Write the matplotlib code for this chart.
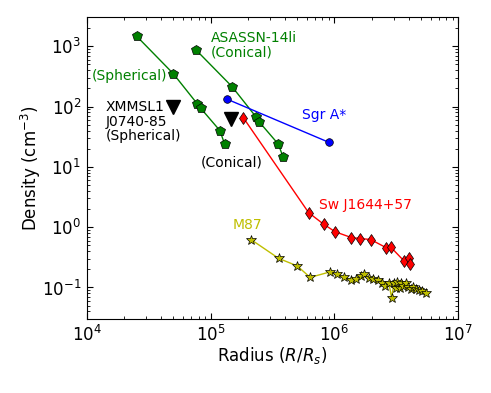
import matplotlib
matplotlib.use('Agg')
import matplotlib.pyplot as plt

# ASASSN-14li, spherical geometry
sph_r = [25300, 50000, 78100, 83200, 119100, 130000]
sph_n = [1470, 351, 111, 94, 39.8, 23.6]

# ASASSN-14li, conical geometry
con_r = [75800, 148800, 233800, 247200, 351900, 386300]
con_n = [881, 215, 66.6, 55.6, 23.9, 14.3]

# Sgr A*
sgr_r = [135600, 902600]
sgr_n = [132.8, 25.5]

# XMMSL1 J0740-85 (spherical, conical)
xmm_r = [50000, 146100]
xmm_n = [97.7, 61.6]

# Sw J1644+57
sw_r = [183600, 619300, 823000, 1.015e6, 1.367e6, 1.615e6, 1.96e6, 2.605e6,
        2.858e6, 3.66e6, 4.015e6, 4.046e6]
sw_n = [65.6, 1.738, 1.109, 0.838, 0.673, 0.648, 0.624, 0.459,
        0.464, 0.273, 0.313, 0.242]

# M87
m87_r = [213800, 355200, 500000, 636800, 919600, 1.042e6, 1.193e6, 1.351e6,
         1.491e6, 1.627e6, 1.746e6, 1.91e6, 2.064e6, 2.232e6, 2.404e6, 2.556e6,
         2.754e6, 2.895e6, 3.021e6, 3.136e6, 3.213e6, 3.379e6, 3.422e6, 3.592e6,
         3.777e6, 3.941e6, 4.121e6, 4.325e6, 4.548e6, 4.781e6, 5.055e6, 5.478e6]
m87_n = [0.616, 0.303, 0.228, 0.147, 0.181, 0.165, 0.148, 0.1355,
         0.140, 0.155, 0.170, 0.144, 0.140, 0.133, 0.120, 0.1047,
         0.1166, 0.0674, 0.1166, 0.0989, 0.123, 0.0989, 0.1166, 0.1054,
         0.1166, 0.1027, 0.0951, 0.1027, 0.0926, 0.0905, 0.0871, 0.0816]

plt.rcParams['font.family'] = 'DejaVu Sans'
plt.rcParams['font.size'] = 10
plt.rcParams['axes.labelsize'] = 12
plt.rcParams['xtick.labelsize'] = 12
plt.rcParams['ytick.labelsize'] = 12
plt.rcParams['xtick.direction'] = 'in'
plt.rcParams['ytick.direction'] = 'in'
plt.rcParams['xtick.top'] = True
plt.rcParams['ytick.right'] = True
plt.rcParams['xtick.major.size'] = 4
plt.rcParams['ytick.major.size'] = 4
plt.rcParams['xtick.minor.size'] = 2
plt.rcParams['ytick.minor.size'] = 2
plt.rcParams['xtick.major.pad'] = 4
plt.rcParams['ytick.major.pad'] = 4

fig = plt.figure(figsize=(4.91, 3.93), dpi=100)
ax = fig.add_axes([0.1766, 0.1883, 0.7568, 0.7672])

ax.plot(sph_r, sph_n, c='g', marker='p', ms=7, mec='k', mew=0.5, lw=1)
ax.plot(con_r, con_n, c='g', marker='p', ms=7, mec='k', mew=0.5, lw=1)
ax.plot(sgr_r, sgr_n, c='b', marker='o', ms=5.5, mec='k', mew=0.5, lw=1)
ax.plot(sw_r, sw_n, c='r', marker='d', ms=6.2, mec='k', mew=0.5, lw=1)
ax.plot(m87_r, m87_n, c='y', marker='*', ms=7, mec='k', mew=0.5, lw=1)
ax.plot(xmm_r, xmm_n, ls='none', c='k', marker='v', ms=10)

ax.text(1.0e5, 1050, 'ASASSN-14li\n(Conical)', color='g', ha='left', va='center', linespacing=1.05)
ax.text(22150, 325, '(Spherical)', color='g', ha='center', va='center')
ax.text(14320, 55.6, 'XMMSL1\nJ0740-85\n(Spherical)', color='k', ha='left', va='center', linespacing=1.05)
ax.text(147500, 11.66, '(Conical)', color='k', ha='center', va='center')
ax.text(823000, 72.8, 'Sgr A*', color='b', ha='center', va='center')
ax.text(1.773e6, 2.36, 'Sw J1644+57', color='r', ha='center', va='center')
ax.text(198500, 1.067, 'M87', color='y', ha='center', va='center')

ax.set_xscale('log')
ax.set_yscale('log')
ax.set_xlim(1e4, 1e7)
ax.set_ylim(0.03, 3000)
ax.set_xlabel('Radius ($R/R_s$)', labelpad=0.5)
ax.set_ylabel('Density (cm$^{-3}$)', labelpad=-1)

fig.savefig('out.png', dpi=100)
